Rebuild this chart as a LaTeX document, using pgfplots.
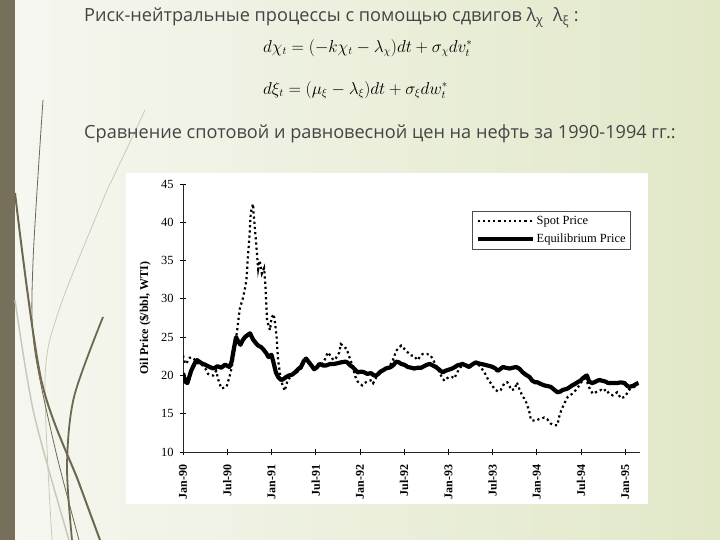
\documentclass[border=0pt]{standalone}
\usepackage{pgfplots}
\pgfplotsset{compat=1.18}
\usepackage{fontspec}
\newfontfamily\slidefont{Open Sans}
\newfontfamily\chartfont{Liberation Serif}
\definecolor{barcol}{HTML}{76705A}
\definecolor{bgl}{HTML}{F6F7F1}
\definecolor{bgr}{HTML}{E1E8C8}
\definecolor{slidetxt}{HTML}{444444}
\definecolor{deco}{HTML}{6E6851}
\definecolor{decol}{HTML}{C9C8BC}

\begin{document}
\begin{tikzpicture}[x=1bp,y=1bp]
\useasboundingbox (0,0) rectangle (720,540);
\shade[left color=bgl, right color=bgr] (0,0) rectangle (720,540);
\fill[barcol] (0,0) rectangle (15,540);
% decorative curves
\draw[decol, line width=0.8bp] plot[smooth] coordinates {(145,430) (131,400) (112,360) (103,340) (59,230) (45,161) (52,0)};
\draw[decol, line width=1.5bp] plot[smooth] coordinates {(15,240) (34,126) (69,0)};
\draw[deco, line width=0.8bp] plot[smooth] coordinates {(43,440) (33,278) (34,195) (55,92) (79,0)};
\draw[deco, line width=2bp] plot[smooth] coordinates {(15,347) (41,161) (79,57) (100,0)};
\draw[deco, line width=1.8bp] plot[smooth] coordinates {(103,223) (74,143) (67,74) (72,0)};

\node[anchor=base west, inner sep=0pt, font=\slidefont\fontsize{18.2}{20}\selectfont, text=slidetxt] at (84,518.5)
  {Риск-нейтральные процессы с помощью сдвигов λ\textsubscript{χ}\ \ λ\textsubscript{ξ} :};
\node[anchor=west, inner sep=0pt, font=\fontsize{16}{18}\selectfont] at (263,492)
  {$d\chi_t = (-k\chi_t - \lambda_\chi)dt + \sigma_\chi dv_t^{*}$};
\node[anchor=west, inner sep=0pt, font=\fontsize{16}{18}\selectfont] at (263,450)
  {$d\xi_t = (\mu_\xi - \lambda_\xi)dt + \sigma_\xi dw_t^{*}$};
\node[anchor=base west, inner sep=0pt, font=\slidefont\fontsize{18.2}{20}\selectfont, text=slidetxt] at (84,401)
  {Сравнение спотовой и равновесной цен на нефть за 1990-1994 гг.:};

\fill[white] (126,36) rectangle (648,367);

\begin{axis}[
    at={(183bp,88bp)}, anchor=south west,
    scale only axis, width=457bp, height=268bp,
    xmin=0, xmax=62, ymin=10, ymax=45,
    axis lines=left,
    axis line style={-, line width=0.8bp, black!85},
    xtick={0,6,...,60},
    xticklabels={Jan-90,Jul-90,Jan-91,Jul-91,Jan-92,Jul-92,Jan-93,Jul-93,Jan-94,Jul-94,Jan-95},
    x tick label style={rotate=90, anchor=east, font=\chartfont\bfseries\fontsize{12}{12}\selectfont},
    xticklabel shift=6bp,
    ytick={10,15,...,45},
    y tick label style={font=\chartfont\fontsize{12.5}{12}\selectfont},
    yticklabel shift=3bp,
    /pgf/number format/assume math mode=true,
    tick align=center, major tick length=6bp,
    tick style={line width=0.8bp, black},
    ylabel={Oil Price (\$/bbl, WTI)},
    ylabel style={font=\chartfont\bfseries\fontsize{12}{14}\selectfont, at={(axis description cs:-0.083,0.5)}, anchor=center},
    legend style={at={(0.98,0.9)}, anchor=north east, draw=black!70, line width=0.6bp, fill=white,
        font=\chartfont\fontsize{12.5}{14}\selectfont, inner sep=3bp, row sep=4bp},
    legend cell align=left,
    legend image code/.code={\draw[#1] (0bp,0bp) -- (55bp,0bp);},
]
\addplot[black, line width=2.2bp, dash pattern=on 2.2bp off 3bp] coordinates {
(0,22.6) (0.3,21.5) (0.6,21.8) (0.9,22.3) (1.4,22.3) (1.8,21.7) (2.2,21.5) (2.7,21.3) (3.1,20.8) (3.4,20.2)
(3.8,20.0) (4.1,20.0) (4.5,20.6) (4.8,19.4) (5.2,18.3) (5.6,18.4) (5.9,18.5) (6.3,19.8) (6.6,21.0) (6.9,22.6)
(7.2,24.8) (7.4,26.3) (7.7,28.7) (8.1,30.0) (8.4,31.3) (8.6,32.4) (8.8,35.4) (9.0,38.0) (9.2,41.3) (9.5,42.4)
(9.6,40.9) (9.8,38.7) (10.0,36.3) (10.2,33.9) (10.4,35.0) (10.7,33.3) (11.0,34.0) (11.2,31.5) (11.4,27.2) (11.8,25.9)
(12.0,27.5) (12.3,28.0) (12.5,26.8) (12.7,25.0) (12.9,22.0) (13.3,19.3) (13.8,18.0) (14.2,19.4) (14.6,19.8) (14.9,20.2)
(15.3,20.3) (15.7,20.6) (16.1,21.0) (16.5,21.8) (16.8,22.0) (17.2,21.5) (17.6,21.1) (18.0,20.9) (18.5,21.3) (19.0,21.6)
(19.4,22.4) (19.6,23.0) (20.0,22.6) (20.4,22.0) (20.7,22.2) (21.2,23.0) (21.4,24.1) (21.7,23.9) (22.0,23.6) (22.2,23.5)
(22.5,22.6) (22.8,21.8) (23.1,20.8) (23.4,19.8) (23.7,19.2) (23.9,19.0) (24.3,18.7) (24.6,19.0) (24.8,19.1) (25.3,19.3)
(25.6,19.4) (25.8,19.0) (26.2,19.7) (26.6,20.3) (27.0,20.6) (27.5,20.8) (27.9,21.2) (28.3,21.6) (28.6,22.3) (28.9,23.2)
(29.2,23.5) (29.6,23.9) (30.0,23.5) (30.3,23.2) (30.6,22.9) (31.0,22.6) (31.3,22.6) (31.8,22.0) (32.2,22.5) (32.5,22.8)
(33.1,22.8) (33.6,22.6) (34.0,21.9) (34.4,21.2) (34.8,20.4) (35.2,19.6) (35.5,19.3) (35.8,19.6) (36.1,19.8) (36.5,19.8)
(36.8,19.6) (37.2,20.4) (37.6,21.0) (38.0,21.4) (38.5,21.2) (39.0,21.3) (39.5,21.6) (39.9,21.5) (40.3,21.2) (40.9,20.4)
(41.2,19.8) (41.5,19.3) (41.9,18.8) (42.2,18.3) (42.7,17.9) (43.1,18.1) (43.4,18.6) (43.6,19.0) (44.0,19.1) (44.3,18.6)
(44.5,18.1) (45.0,18.2) (45.3,19.1) (45.6,18.3) (46.1,17.2) (46.3,17.0) (46.6,16.4) (47.0,15.2) (47.2,14.2) (47.6,14.1)
(47.9,14.1) (48.3,14.3) (48.7,14.4) (49.0,14.5) (49.4,14.3) (49.9,13.7) (50.4,13.5) (50.8,13.5) (51.0,14.5) (51.3,15.4)
(51.7,16.3) (52.2,17.2) (52.8,17.6) (53.3,18.1) (53.7,18.6) (54.1,19.2) (54.5,19.6) (54.8,19.2) (55.2,18.2) (55.6,17.6)
(56.0,17.8) (56.7,18.1) (57.0,17.9) (57.4,18.2) (57.8,17.6) (58.3,17.4) (58.9,17.8) (59.4,17.0) (59.9,17.2) (60.2,17.6)
(60.5,18.1) (61.2,18.5) (61.7,18.7)
};
\addlegendentry{Spot Price}
\addplot[black, line width=4.2bp, line join=round] coordinates {
(0,20.3) (0.3,19.2) (0.6,19.0) (1.1,20.6) (1.6,21.6) (1.9,22.0) (2.5,21.6) (3.0,21.4) (3.4,21.2) (4.1,20.9)
(4.7,21.2) (5.2,21.0) (5.7,21.4) (6.3,21.1) (6.6,21.8) (6.9,23.5) (7.2,25.0) (7.5,24.4) (7.8,24.0) (8.1,24.6)
(8.4,25.0) (8.8,25.3) (9.1,25.5) (9.5,24.7) (9.9,24.2) (10.2,23.9) (10.6,23.7) (10.9,23.4) (11.3,22.9) (11.6,22.4)
(12.0,22.7) (12.3,21.6) (12.6,20.4) (12.9,19.8) (13.3,19.4) (13.6,19.5) (14.0,19.8) (14.4,20.0) (14.8,20.1) (15.2,20.4)
(15.6,20.8) (16.0,21.1) (16.4,21.9) (16.7,22.2) (17.1,21.7) (17.5,21.2) (17.8,20.8) (18.2,21.1) (18.5,21.5) (19.0,21.3)
(19.4,21.3) (20.0,21.5) (20.5,21.5) (21.0,21.6) (21.4,21.7) (22.0,21.8) (22.3,21.7) (22.7,21.3) (23.0,21.1) (23.4,20.7)
(23.7,20.4) (24.2,20.5) (24.6,20.4) (25.0,20.2) (25.5,20.3) (25.9,20.0) (26.2,20.0) (26.5,20.2) (26.8,20.5) (27.2,20.7)
(27.5,20.9) (27.9,21.0) (28.2,21.1) (28.6,21.4) (28.9,21.8) (29.3,21.7) (29.6,21.5) (30.0,21.4) (30.5,21.1) (31.0,21.0)
(31.4,20.9) (31.8,21.0) (32.3,21.0) (32.7,21.2) (33.1,21.4) (33.5,21.5) (33.9,21.3) (34.3,21.1) (34.7,20.8) (35.2,20.4)
(35.6,20.6) (35.9,20.7) (36.5,20.9) (36.9,21.1) (37.2,21.3) (37.6,21.4) (37.9,21.5) (38.4,21.3) (38.8,21.1) (39.2,21.4)
(39.7,21.7) (40.0,21.6) (40.4,21.5) (40.9,21.4) (41.3,21.3) (41.7,21.2) (42.0,21.1) (42.4,20.9) (42.7,20.6) (43.0,20.8)
(43.4,21.1) (43.8,21.0) (44.3,20.9) (44.7,21.0) (45.2,21.1) (45.6,20.9) (46.1,20.4) (46.5,20.1) (47.0,19.8) (47.4,19.3)
(47.8,19.1) (48.1,19.1) (48.5,18.9) (49.0,18.7) (49.5,18.6) (49.9,18.5) (50.4,18.1) (50.8,17.8) (51.2,17.9) (51.5,18.1)
(51.9,18.2) (52.2,18.3) (52.5,18.5) (52.8,18.7) (53.2,18.9) (53.5,19.1) (53.9,19.3) (54.2,19.6) (54.6,19.9) (54.8,20.0)
(55.1,19.2) (55.5,19.0) (55.8,19.1) (56.2,19.3) (56.5,19.4) (56.9,19.3) (57.3,19.2) (57.7,19.0) (58.0,19.0) (58.5,19.0)
(58.9,19.0) (59.4,19.1) (59.9,19.0) (60.2,18.7) (60.5,18.5) (60.9,18.6) (61.2,18.7) (61.5,18.9) (61.8,19.0)
};
\addlegendentry{Equilibrium Price}
\end{axis}
\end{tikzpicture}
\end{document}
